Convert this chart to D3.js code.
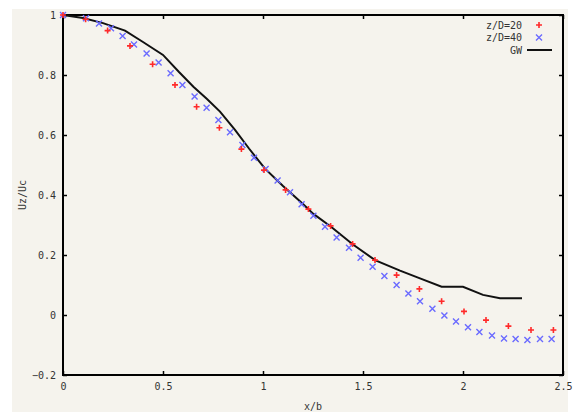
<!DOCTYPE html>
<html>
<head>
<meta charset="utf-8">
<script src="https://cdn.jsdelivr.net/npm/d3@7"></script>
<style>
  body { margin: 0; background: #fff; }
  svg { display: block; }
  .tick text { font-family: "DejaVu Sans Mono", monospace; font-size: 10px; fill: #333; }
</style>
</head>
<body>
<svg id="chart" width="580" height="413"></svg>
<script>
// data
const xTicks = [0, 0.5, 1, 1.5, 2, 2.5]
const yTicks = [-0.2, 0, 0.2, 0.4, 0.6, 0.8, 1]

const z20x = [0, 0.113, 0.223, 0.335, 0.448, 0.56, 0.668, 0.782, 0.892, 1.005, 1.113, 1.227,
  1.338, 1.448, 1.56, 1.668, 1.782, 1.893, 2.005, 2.115, 2.227, 2.34, 2.452]
const z20y = [1.0, 0.986, 0.948, 0.897, 0.836, 0.767, 0.694, 0.624, 0.553, 0.483, 0.417, 0.353,
  0.297, 0.237, 0.183, 0.133, 0.087, 0.046, 0.012, -0.017, -0.037, -0.05, -0.05]

const z40x = [0, 0.115, 0.18, 0.24, 0.298, 0.355, 0.418, 0.478, 0.538, 0.597, 0.658, 0.718, 0.777,
  0.835, 0.897, 0.955, 1.013, 1.073, 1.135, 1.193, 1.252, 1.31, 1.368, 1.43, 1.488, 1.548, 1.607,
  1.668, 1.727, 1.785, 1.847, 1.907, 1.965, 2.025, 2.082, 2.145, 2.205, 2.263, 2.322, 2.385, 2.443]
const z40y = [1.0, 0.989, 0.972, 0.956, 0.93, 0.902, 0.872, 0.842, 0.806, 0.767, 0.728, 0.691, 0.65,
  0.609, 0.567, 0.524, 0.487, 0.448, 0.409, 0.369, 0.331, 0.294, 0.258, 0.224, 0.191, 0.161, 0.13,
  0.1, 0.072, 0.046, 0.021, -0.002, -0.022, -0.041, -0.057, -0.068, -0.078, -0.08, -0.083, -0.08, -0.08]

const gwX = [0, 0.1, 0.2, 0.31, 0.4, 0.5, 0.58, 0.652, 0.72, 0.785, 0.86, 0.93, 1.01, 1.1, 1.2,
  1.252, 1.34, 1.448, 1.56, 1.685, 1.785, 1.893, 2.0, 2.1, 2.185, 2.295]
const gwY = [1.0, 0.99, 0.973, 0.948, 0.91, 0.867, 0.81, 0.761, 0.72, 0.678, 0.617, 0.555, 0.488, 0.43,
  0.37, 0.337, 0.294, 0.236, 0.183, 0.148, 0.122, 0.094, 0.094, 0.067, 0.056, 0.056]

const svg = d3.select('#chart')
const margin = { left: 63, right: 17, top: 15, bottom: 38 }
const W = 580 - margin.left - margin.right
const H = 413 - margin.top - margin.bottom

// beige panel
svg.append('rect').attr('x', 12).attr('y', 9).attr('width', 556).attr('height', 403)
  .attr('fill', '#f5f3ed')

const g = svg.append('g').attr('transform', `translate(${margin.left},${margin.top})`)

const x = d3.scaleLinear().domain([0, 2.5]).range([0, W])
const y = d3.scaleLinear().domain([-0.2, 1]).range([H, 0])

function styleAxis(sel) {
  sel.select('.domain').remove()
  sel.selectAll('.tick line').attr('stroke', '#000').attr('stroke-width', 1.5)
}

g.append('g').attr('transform', `translate(0,${H})`)
  .call(d3.axisBottom(x).tickValues(xTicks).tickSize(-4).tickPadding(8).tickFormat(d3.format('')))
  .call(styleAxis)
g.append('g')
  .call(d3.axisTop(x).tickValues(xTicks).tickSize(-4).tickFormat(''))
  .call(styleAxis)
g.append('g')
  .call(d3.axisLeft(y).tickValues(yTicks).tickSize(-4).tickPadding(7).tickFormat(d3.format('')))
  .call(styleAxis)
g.append('g').attr('transform', `translate(${W},0)`)
  .call(d3.axisRight(y).tickValues(yTicks).tickSize(-4).tickFormat(''))
  .call(styleAxis)

// frame
g.append('rect').attr('width', W).attr('height', H)
  .attr('fill', 'none').attr('stroke', '#000').attr('stroke-width', 2)

// GW line
const gw = gwX.map((v, i) => [v, gwY[i]])
g.append('path').datum(gw)
  .attr('fill', 'none').attr('stroke', '#111').attr('stroke-width', 2)
  .attr('d', d3.line().x(d => x(d[0])).y(d => y(d[1])))

const redC = '#ff2a2a'
const blueC = '#6a6aff'
const plus = 'M-3,0H3M0,-3V3'
const cross = 'M-3,-3L3,3M-3,3L3,-3'

g.selectAll('path.z40').data(z40x.map((v, i) => [v, z40y[i]])).join('path')
  .attr('class', 'z40')
  .attr('transform', d => `translate(${x(d[0])},${y(d[1])})`)
  .attr('d', cross).attr('stroke', blueC).attr('stroke-width', 1.4).attr('fill', 'none')

g.selectAll('path.z20').data(z20x.map((v, i) => [v, z20y[i]])).join('path')
  .attr('class', 'z20')
  .attr('transform', d => `translate(${x(d[0])},${y(d[1])})`)
  .attr('d', plus).attr('stroke', redC).attr('stroke-width', 1.6).attr('fill', 'none')

// legend
const legend = [
  { name: 'z/D=20', kind: 'plus' },
  { name: 'z/D=40', kind: 'cross' },
  { name: 'GW', kind: 'line' }
]
const lg = svg.append('g').attr('transform', 'translate(522,25)')
legend.forEach((d, i) => {
  const row = lg.append('g').attr('transform', `translate(0,${i * 12.5})`)
  row.append('text').attr('text-anchor', 'end').attr('dy', '0.35em')
    .attr('font-family', 'DejaVu Sans Mono, monospace').attr('font-size', 10).attr('fill', '#333')
    .text(d.name)
  if (d.kind === 'line') {
    row.append('line').attr('x1', 5).attr('x2', 30).attr('stroke', '#111').attr('stroke-width', 2)
  } else {
    row.append('path').attr('transform', 'translate(17,0)')
      .attr('d', d.kind === 'plus' ? plus : cross)
      .attr('stroke', d.kind === 'plus' ? redC : blueC)
      .attr('stroke-width', d.kind === 'plus' ? 1.6 : 1.4).attr('fill', 'none')
  }
})

// axis titles
svg.append('text').attr('x', 313).attr('y', 406).attr('text-anchor', 'middle').attr('dy', '0.35em')
  .attr('font-family', 'DejaVu Sans Mono, monospace').attr('font-size', 10).attr('fill', '#333')
  .text('x/b')
svg.append('text').attr('transform', 'translate(22,195) rotate(-90)')
  .attr('text-anchor', 'middle').attr('dy', '0.35em')
  .attr('font-family', 'DejaVu Sans Mono, monospace').attr('font-size', 10).attr('fill', '#333')
  .text('Uz/Uc')
</script>
</body>
</html>
